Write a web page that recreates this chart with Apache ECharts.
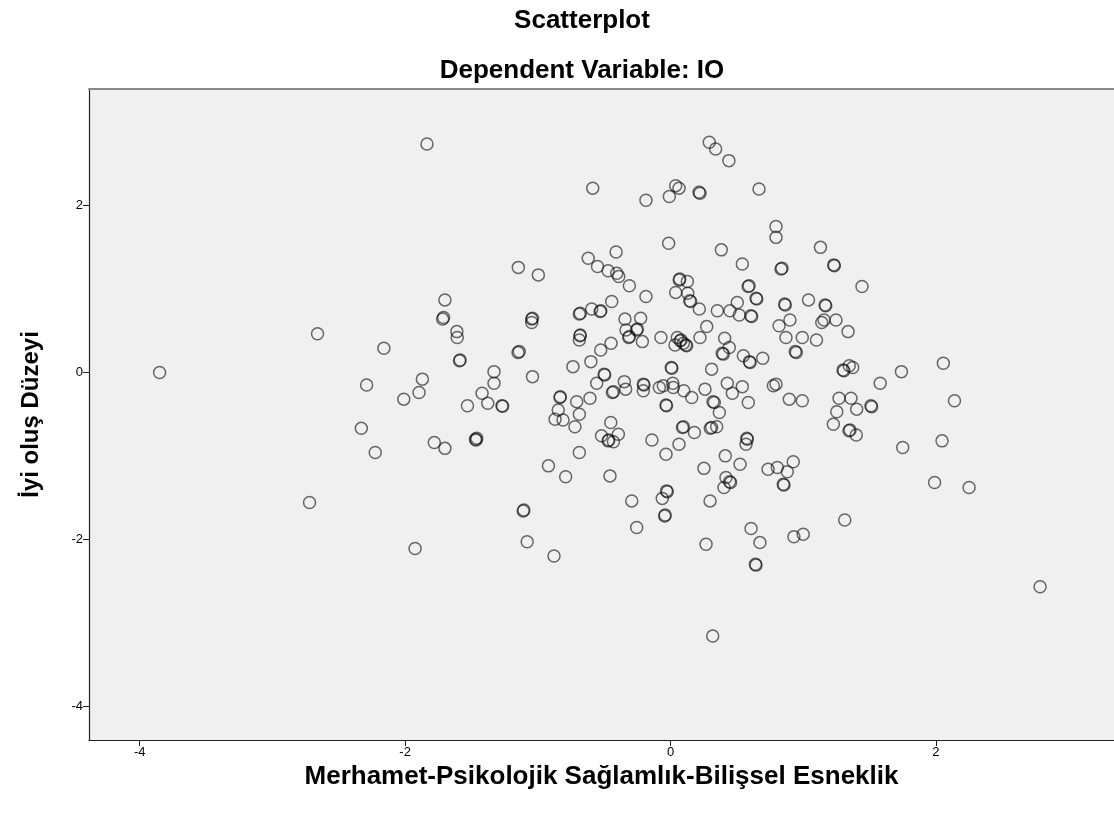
<!DOCTYPE html>
<html>
<head>
<meta charset="utf-8">
<script src="https://cdn.jsdelivr.net/npm/echarts@6/dist/echarts.min.js"></script>
<style>
html,body{margin:0;padding:0;background:#fff;}
#chart{width:1114px;height:824px;}
</style>
</head>
<body>
<div id="chart"></div>
<script>
const chartTitle = 'Scatterplot';
const chartSubtitle = 'Dependent Variable: IO';
const xAxisName = 'Merhamet-Psikolojik Sağlamlık-Bilişsel Esneklik';
const yAxisName = 'İyi oluş Düzeyi';
const xTickValues = [-4, -2, 0, 2];
const yTickValues = [-4, -2, 0, 2];

const xValues = [
 -1.835,-2.66,-2.16,-3.85,-2.29,-1.87,-1.895,-2.01,-2.33,-2.225,-1.78,-2.72,-1.925,
 0.292,0.34,0.44,-0.586,0.039,0.064,-0.009,-0.185,0.222,0.215,0.667,0.795,0.795,-0.014,0.383,0.541,
 -0.41,-0.62,-0.55,-0.47,-0.405,-0.39,-0.31,-0.185,-1.147,-0.996,-1.70,-1.717,-1.71,-1.61,-1.607,
 -1.59,-1.585,-1.046,-1.04,-1.046,-1.149,-1.14,-1.33,-1.33,-1.42,-1.53,-1.377,-1.265,-1.27,-1.04,
 -0.735,-0.60,-0.526,-0.448,-0.496,-0.50,-0.556,-0.438,-0.43,-0.348,-0.338,-0.205,-0.20,-0.205,
 -0.084,-0.054,0.017,0.021,-0.034,-0.03,0.10,0.16,0.26,0.32,0.33,0.368,0.428,0.466,0.541,0.586,
 0.775,0.795,-0.833,-0.83,-0.846,-0.707,-0.607,-0.687,-0.687,-0.68,-0.594,-0.53,-0.525,-0.443,
 -0.343,-0.225,-0.335,-0.255,-0.25,-0.315,-0.31,-0.212,-0.682,-0.68,-0.687,-0.072,0.051,0.072,0.08,
 0.034,0.122,0.115,0.097,0.222,0.273,0.408,0.443,0.398,0.39,0.549,0.60,0.595,0.695,0.006,0.01,0.31,
 0.066,0.07,0.127,0.039,0.13,0.152,0.145,0.217,0.353,0.448,0.503,0.518,0.612,0.605,0.592,0.585,0.65,0.645,
 1.13,1.23,1.235,0.833,0.84,1.443,0.865,0.86,1.04,1.17,1.165,0.90,0.818,1.14,1.157,1.247,1.338,
 0.87,0.993,1.10,0.948,0.94,1.347,1.307,1.30,1.373,1.74,2.056,1.58,2.14,0.895,0.993,1.27,1.36,
 1.253,1.403,1.516,1.51,
 -1.70,-1.47,-1.465,-1.46,-0.87,-0.81,-0.72,-0.687,-0.92,-0.79,-1.11,-1.105,-1.08,-0.878,
 -0.45,-0.52,-0.47,-0.465,-0.393,-0.43,-0.456,-0.14,-0.034,0.064,0.097,0.09,0.18,0.31,0.30,0.348,
 0.579,0.575,0.569,0.735,0.413,0.524,0.252,0.418,0.453,0.445,0.403,0.298,-0.024,-0.03,-0.062,
 -0.292,-0.044,-0.04,-0.255,0.268,0.607,0.674,0.644,0.64,0.318,
 1.227,1.353,1.345,1.40,1.75,2.046,1.99,2.25,0.925,0.805,0.88,0.855,0.85,1.313,0.93,1.00,2.785
];
const yValues = [
 2.74,0.465,0.29,0.00,-0.15,-0.08,-0.24,-0.32,-0.67,-0.96,-0.84,-1.56,-2.11,
 2.76,2.68,2.54,2.21,2.24,2.21,2.11,2.065,2.15,2.16,2.20,1.75,1.62,1.55,1.47,1.30,
 1.445,1.37,1.27,1.22,1.19,1.15,1.04,0.91,1.26,1.17,0.87,0.64,0.66,0.49,0.42,
 0.14,0.15,0.64,0.65,0.60,0.24,0.25,0.01,-0.13,-0.25,-0.40,-0.37,-0.405,-0.40,-0.05,
 0.07,0.13,0.27,0.35,-0.03,-0.02,-0.13,-0.24,-0.23,-0.11,-0.20,-0.14,-0.15,-0.22,
 -0.18,-0.16,-0.13,-0.18,-0.39,-0.40,-0.22,-0.30,-0.20,-0.35,-0.36,-0.48,-0.13,-0.25,-0.17,-0.36,
 -0.16,-0.14,-0.30,-0.29,-0.45,-0.35,-0.31,-0.50,0.70,0.71,0.76,0.73,0.74,0.85,
 0.64,0.65,0.51,0.51,0.52,0.42,0.43,0.37,0.44,0.45,0.39,0.42,0.42,0.38,0.39,
 0.33,0.32,0.33,0.35,0.42,0.55,0.41,0.30,0.22,0.23,0.20,0.12,0.13,0.17,0.06,0.05,0.04,
 1.11,1.12,1.09,0.96,0.95,0.85,0.86,0.76,0.74,0.74,0.84,0.69,0.67,0.68,1.04,1.03,0.88,0.89,
 1.50,1.29,1.28,1.24,1.25,1.03,0.81,0.82,0.87,0.80,0.81,0.63,0.56,0.60,0.63,0.63,0.49,
 0.42,0.42,0.39,0.24,0.25,0.08,0.02,0.03,0.06,0.01,0.11,-0.13,-0.34,-0.32,-0.34,-0.31,-0.31,
 -0.47,-0.44,-0.41,-0.40,
 -0.91,-0.80,-0.81,-0.79,-0.56,-0.57,-0.65,-0.96,-1.12,-1.25,-1.66,-1.65,-2.03,-2.20,
 -0.60,-0.76,-0.82,-0.81,-0.74,-0.83,-1.24,-0.81,-0.98,-0.86,-0.65,-0.66,-0.72,-0.66,-0.67,-0.65,
 -0.80,-0.79,-0.86,-1.16,-1.00,-1.10,-1.15,-1.26,-1.32,-1.31,-1.38,-1.54,-1.43,-1.42,-1.51,
 -1.54,-1.72,-1.71,-1.86,-2.06,-1.87,-2.04,-2.31,-2.30,-3.16,
 -0.62,-0.69,-0.70,-0.75,-0.90,-0.82,-1.32,-1.38,-1.07,-1.14,-1.19,-1.35,-1.34,-1.77,-1.97,-1.94,-2.57
];

const points = xValues.map((x, i) => [x, yValues[i]]);

const FONT = '"Liberation Sans", Arial, sans-serif';
const X_MIN = -4.382, X_MAX = 3.342, Y_MIN = -4.407, Y_MAX = 3.399;
const chart = echarts.init(document.getElementById('chart'), null, {renderer: 'canvas'});
chart.setOption({
  backgroundColor: '#ffffff',
  animation: false,
  title: [
    {text: chartTitle, left: 577, top: 3, textAlign: 'center',
     textStyle: {fontFamily: FONT, fontSize: 26, fontWeight: 'bold', color: '#000'}},
    {text: chartSubtitle, left: 577, top: 53, textAlign: 'center',
     textStyle: {fontFamily: FONT, fontSize: 26, fontWeight: 'bold', color: '#000'}}
  ],
  grid: {left: 89, top: 89, right: 0, bottom: 84, show: true,
         backgroundColor: '#f0f0f0', borderWidth: 0},
  xAxis: [{
    type: 'value', min: X_MIN, max: X_MAX,
    name: xAxisName, nameLocation: 'middle', nameGap: 24,
    nameTextStyle: {fontFamily: FONT, fontSize: 26, fontWeight: 'bold', color: '#000'},
    axisLine: {show: true, onZero: false, lineStyle: {color: '#222', width: 1.2}},
    axisTick: {show: true, length: 6, lineStyle: {color: '#222'}, customValues: xTickValues},
    axisLabel: {fontFamily: FONT, fontSize: 13, color: '#000', margin: 6, customValues: xTickValues},
    splitLine: {show: false}
  }, {
    type: 'value', position: 'top', min: X_MIN, max: X_MAX,
    axisLine: {show: true, onZero: false, lineStyle: {color: '#888', width: 2}},
    axisTick: {show: false}, axisLabel: {show: false}, splitLine: {show: false}
  }],
  yAxis: {
    type: 'value', min: Y_MIN, max: Y_MAX,
    name: yAxisName, nameLocation: 'middle', nameGap: 46, nameRotate: 90,
    nameTextStyle: {fontFamily: FONT, fontSize: 24, fontWeight: 'bold', color: '#000'},
    axisLine: {show: true, onZero: false, lineStyle: {color: '#222', width: 1.2}},
    axisTick: {show: true, length: 6, lineStyle: {color: '#222'}, customValues: yTickValues},
    axisLabel: {fontFamily: FONT, fontSize: 13, color: '#000', margin: 6, customValues: yTickValues},
    splitLine: {show: false}
  },
  series: [{
    type: 'scatter',
    data: points,
    symbol: 'circle',
    symbolSize: 12,
    itemStyle: {color: 'rgba(0,0,0,0)', borderColor: 'rgba(10,10,10,0.75)', borderWidth: 1.5}
  }]
});
</script>
</body>
</html>
